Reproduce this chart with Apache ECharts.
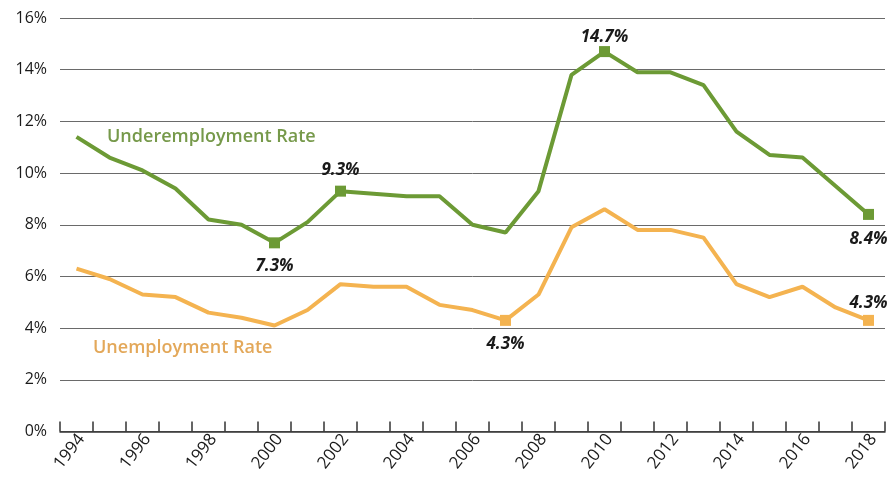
<!DOCTYPE html>
<html>
<head>
<meta charset="utf-8">
<script src="https://cdn.jsdelivr.net/npm/echarts@6/dist/echarts.min.js"></script>
<style>
  html, body { margin: 0; padding: 0; background: #fff; }
  #chart { width: 891px; height: 477px; }
</style>
</head>
<body>
<div id="chart"></div>
<script>
// Years on the horizontal axis
const years = ['1994','1995','1996','1997','1998','1999','2000','2001','2002','2003','2004','2005','2006',
               '2007','2008','2009','2010','2011','2012','2013','2014','2015','2016','2017','2018'];

// Rates in percent
const underemployment = [11.4, 10.6, 10.1, 9.4, 8.2, 8.0, 7.3, 8.1, 9.3, 9.2, 9.1, 9.1, 8.0,
                         7.7, 9.3, 13.8, 14.7, 13.9, 13.9, 13.4, 11.6, 10.7, 10.6, 9.5, 8.4];
const unemployment    = [6.3, 5.9, 5.3, 5.2, 4.6, 4.4, 4.1, 4.7, 5.7, 5.6, 5.6, 4.9, 4.7,
                         4.3, 5.3, 7.9, 8.6, 7.8, 7.8, 7.5, 5.7, 5.2, 5.6, 4.8, 4.3];

// Highlighted points: [year, label placement, label gap]
const underHighlights = [['2000', 'bottom', 9], ['2002', 'top', 7], ['2010', 'top', 0], ['2018', 'bottom', 11]];
const unHighlights    = [['2007', 'bottom', 10], ['2018', 'top', 3]];

const yTicks = { min: 0, max: 16, interval: 2 };

const GREEN = '#6c9a35';
const ORANGE = '#f4b350';
const FONT = '"Open Sans", "Noto Sans", sans-serif';

function buildData(values, highlights) {
  const marks = new Map(highlights.map(h => [h[0], h]));
  return values.map((v, i) => {
    const h = marks.get(years[i]);
    if (!h) return { value: v, symbol: 'none' };
    return {
      value: v,
      symbol: 'rect',
      symbolSize: 11,
      label: {
        show: true,
        position: h[1],
        distance: h[2],
        formatter: p => p.value.toFixed(1) + '%',
        color: '#1a1a1a',
        fontFamily: FONT,
        fontSize: 17,
        fontWeight: 'bold',
        fontStyle: 'italic'
      }
    };
  });
}

const chart = echarts.init(document.getElementById('chart'), null, { renderer: 'canvas' });

chart.setOption({
  animation: false,
  backgroundColor: '#fff',
  grid: { left: 60, right: 6, top: 18, bottom: 45.5, containLabel: false },
  xAxis: {
    type: 'category',
    data: years,
    boundaryGap: true,
    axisLine: { lineStyle: { color: '#333', width: 1.5 } },
    axisTick: { show: true, inside: true, length: 10, interval: 0, lineStyle: { color: '#333', width: 1.5 } },
    axisLabel: {
      interval: 1,
      rotate: 52,
      margin: 11,
      color: '#1a1a1a',
      fontFamily: FONT,
      fontSize: 17,
      padding: [0, -8, 0, 0]
    },
    splitLine: { show: false }
  },
  yAxis: {
    type: 'value',
    min: yTicks.min,
    max: yTicks.max,
    interval: yTicks.interval,
    axisLine: { show: false },
    axisTick: { show: false },
    axisLabel: {
      formatter: '{value}%',
      margin: 13,
      color: '#1a1a1a',
      fontFamily: FONT,
      fontSize: 16
    },
    splitLine: { lineStyle: { color: '#6a6a6a', width: 1 } }
  },
  series: [
    {
      name: 'Underemployment Rate',
      type: 'line',
      data: buildData(underemployment, underHighlights),
      showSymbol: true,
      lineStyle: { color: GREEN, width: 4 },
      itemStyle: { color: GREEN },
      z: 3
    },
    {
      name: 'Unemployment Rate',
      type: 'line',
      data: buildData(unemployment, unHighlights),
      showSymbol: true,
      lineStyle: { color: ORANGE, width: 4 },
      itemStyle: { color: ORANGE },
      z: 2
    }
  ],
  graphic: [
    {
      type: 'text',
      left: 107,
      top: 128,
      style: {
        text: 'Underemployment Rate',
        fill: '#76994a',
        font: '600 18px ' + FONT
      }
    },
    {
      type: 'text',
      left: 93,
      top: 339,
      style: {
        text: 'Unemployment Rate',
        fill: '#e3a85a',
        font: '600 18px ' + FONT
      }
    }
  ]
});
</script>
</body>
</html>
